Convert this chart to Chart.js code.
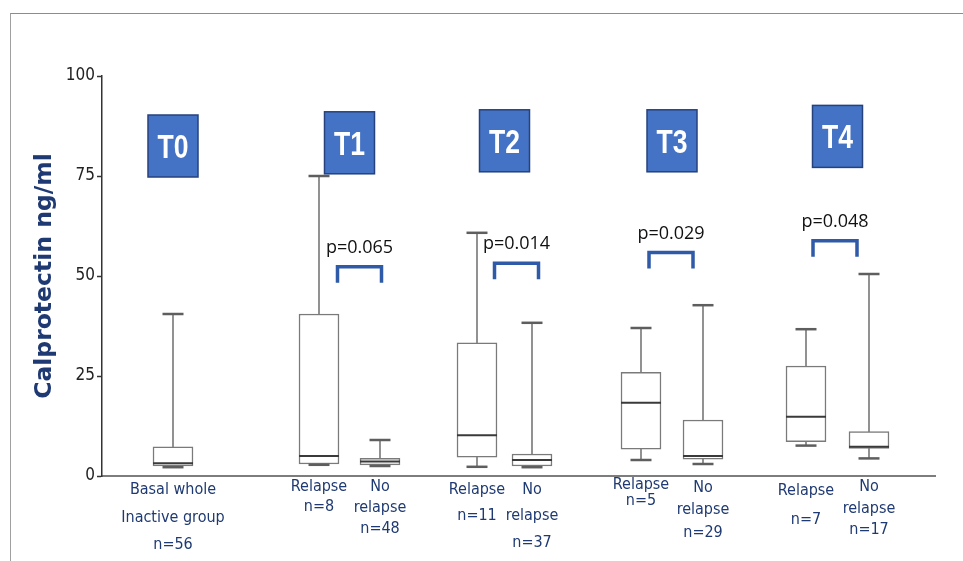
<!DOCTYPE html>
<html>
<head>
<meta charset="utf-8">
<script src="https://cdn.jsdelivr.net/npm/chart.js@4.4.1/dist/chart.umd.min.js"></script>
<style>
  html, body { margin: 0; padding: 0; background: #fff; }
  #wrap { position: relative; width: 963px; height: 561px; overflow: hidden; }
  #wrap canvas { position: absolute; left: 0; top: 0; }
  #frame { position: absolute; left: 10px; top: 13px; right: -2px; bottom: -2px;
           border-left: 1.5px solid #a0a0a0; border-top: 1.5px solid #8c8c8c; pointer-events: none; }
</style>
</head>
<body>
<div id="wrap">
  <canvas id="chart" width="963" height="561"></canvas>
  <div id="frame"></div>
</div>
<script>
// ---- data ----------------------------------------------------------------
const groupLabels = [
  ['Basal whole', 'Inactive group', 'n=56'],
  ['Relapse', 'n=8'],
  ['No', 'relapse', 'n=48'],
  ['Relapse', 'n=11'],
  ['No', 'relapse', 'n=37'],
  ['Relapse', 'n=5'],
  ['No', 'relapse', 'n=29'],
  ['Relapse', 'n=7'],
  ['No', 'relapse', 'n=17']
];
const whiskerLow  = [2.2, 2.8, 2.5, 2.3, 2.2, 4.0, 3.0, 7.6, 4.4];
const quartile1   = [2.5, 3.0, 2.8, 4.7, 2.5, 6.7, 4.2, 8.6, 6.9];
const medians     = [3.2, 5.0, 3.6, 10.2, 4.0, 18.3, 5.0, 14.8, 7.3];
const quartile3   = [7.3, 40.5, 4.4, 33.3, 5.5, 25.9, 14.0, 27.5, 11.1];
const whiskerHigh = [40.5, 75.0, 9.0, 60.8, 38.3, 37.0, 42.7, 36.7, 50.5];

const timepoints = ['T0', 'T1', 'T2', 'T3', 'T4'];
const pValues    = ['p=0.065', 'p=0.014', 'p=0.029', 'p=0.048'];
const yTicks     = [0, 25, 50, 75, 100];

// ---- layout --------------------------------------------------------------
// horizontal slot of each box on a 0..833 axis
const slotX = [71, 217, 278, 375, 430, 539, 601, 704, 767];
// which boxes sit under each timepoint tag
const tagMembers = [[0], [1, 2], [3, 4], [5, 6], [7, 8]];
const tagCenterY = [82.5, 83.3, 83.8, 83.8, 84.9];
// comparison brackets (centre on the x axis, top on the y axis)
const bracketX   = [257.5, 414.5, 569, 733];
const bracketTop = [52.3, 53.2, 55.9, 58.8];
// label line heights under the axis
const labelLineHeights = [27.5, 20, 21, 26, 26.5, 16, 22.5, 29, 21.5];

const ink = '#1f3a72';
const condensed = '"DejaVu Sans Condensed", "Liberation Sans Narrow", "Liberation Sans", sans-serif';

const boxData   = slotX.map((x, i) => ({ x, y: [quartile1[i], quartile3[i]] }));
const upperStem = slotX.map((x, i) => ({ x, y: [quartile3[i], whiskerHigh[i]] }));
const lowerStem = slotX.map((x, i) => ({ x, y: [whiskerLow[i], quartile1[i]] }));
const capPoints = slotX.flatMap((x, i) => [{ x, y: whiskerHigh[i] }, { x, y: whiskerLow[i] }]);
const medPoints = slotX.map((x, i) => ({ x, y: medians[i] }));

// timepoint tags, brackets and p-values
const annotate = {
  id: 'annotate',
  afterDatasetsDraw(chart) {
    const { ctx, scales: { x, y } } = chart;
    ctx.save();
    timepoints.forEach((t, i) => {
      const m = tagMembers[i];
      const cx = x.getPixelForValue(m.reduce((s, k) => s + slotX[k], 0) / m.length);
      const cy = y.getPixelForValue(tagCenterY[i]);
      const w = 50, h = 62;
      ctx.fillStyle = '#4472c4';
      ctx.fillRect(cx - w / 2, cy - h / 2, w, h);
      ctx.strokeStyle = '#26427c';
      ctx.lineWidth = 1.5;
      ctx.strokeRect(cx - w / 2, cy - h / 2, w, h);
      ctx.save();
      ctx.translate(cx, cy + 12);
      ctx.scale(0.78, 1);
      ctx.font = 'bold 34px "Liberation Sans", sans-serif';
      ctx.fillStyle = '#ffffff';
      ctx.textAlign = 'center';
      ctx.textBaseline = 'alphabetic';
      ctx.fillText(t, 0, 0);
      ctx.restore();
    });
    pValues.forEach((p, i) => {
      const cx = x.getPixelForValue(bracketX[i]);
      const left = x.getPixelForValue(bracketX[i] - 22);
      const right = x.getPixelForValue(bracketX[i] + 22);
      const top = y.getPixelForValue(bracketTop[i]);
      const foot = y.getPixelForValue(bracketTop[i] - 4);
      ctx.strokeStyle = '#2f5aa8';
      ctx.lineWidth = 3.5;
      ctx.lineJoin = 'miter';
      ctx.beginPath();
      ctx.moveTo(left, foot);
      ctx.lineTo(left, top);
      ctx.lineTo(right, top);
      ctx.lineTo(right, foot);
      ctx.stroke();
      ctx.font = '18px "Open Sans", sans-serif';
      ctx.fillStyle = '#111111';
      ctx.textAlign = 'center';
      ctx.textBaseline = 'middle';
      ctx.fillText(p, cx, top - 19);
    });
    ctx.restore();
  }
};

new Chart(document.getElementById('chart'), {
  type: 'bar',
  data: {
    datasets: [
      { type: 'scatter', data: medPoints, order: 0, pointStyle: 'line', pointRadius: 20,
        pointHoverRadius: 20, borderColor: '#3a3a3a', pointBorderWidth: 2, borderWidth: 2 },
      { type: 'scatter', data: capPoints, order: 1, pointStyle: 'line', pointRadius: 10.5,
        pointHoverRadius: 10.5, borderColor: '#5e5e5e', pointBorderWidth: 2.5, borderWidth: 2.5 },
      { data: boxData, order: 3, grouped: false, barThickness: 40,
        backgroundColor: '#ffffff', borderColor: '#7a7a7a', borderWidth: 1.5, borderSkipped: false },
      { data: upperStem, order: 4, grouped: false, barThickness: 1.2, backgroundColor: '#8a8a8a' },
      { data: lowerStem, order: 4, grouped: false, barThickness: 1.2, backgroundColor: '#8a8a8a' }
    ]
  },
  options: {
    responsive: false,
    animation: false,
    layout: { padding: { top: 76, right: 28, bottom: 0, left: 0 } },
    plugins: { legend: { display: false }, tooltip: { enabled: false } },
    scales: {
      x: {
        type: 'linear',
        min: 0,
        max: 833,
        offset: false,
        grid: { display: false, drawTicks: false },
        border: { color: '#7d7d7d', width: 2 },
        afterBuildTicks: (s) => { s.ticks = slotX.map(v => ({ value: v })); },
        afterFit: (s) => { s.height = 85; },
        ticks: {
          autoSkip: false,
          maxRotation: 0,
          padding: 0.5,
          color: ink,
          font: (c) => ({ family: condensed, size: 16,
                          lineHeight: (labelLineHeights[c.index] || 21) + 'px' }),
          callback: (v, i) => groupLabels[i]
        }
      },
      y: {
        min: 0,
        max: 100,
        afterBuildTicks: (s) => { s.ticks = yTicks.map(v => ({ value: v })); },
        afterFit: (s) => { s.width = 102; },
        grid: { drawOnChartArea: false, drawTicks: true, tickLength: 5, tickColor: '#333', tickWidth: 1.5 },
        border: { color: '#333', width: 1.5 },
        ticks: {
          padding: 2,
          color: '#222',
          font: { family: condensed, size: 17 }
        },
        title: {
          display: true,
          text: 'Calprotectin ng/ml',
          color: ink,
          padding: { top: 31, bottom: 0 },
          font: { family: '"DejaVu Sans", sans-serif', size: 23.5, weight: 'bold' }
        }
      }
    }
  },
  plugins: [annotate]
});
</script>
</body>
</html>
